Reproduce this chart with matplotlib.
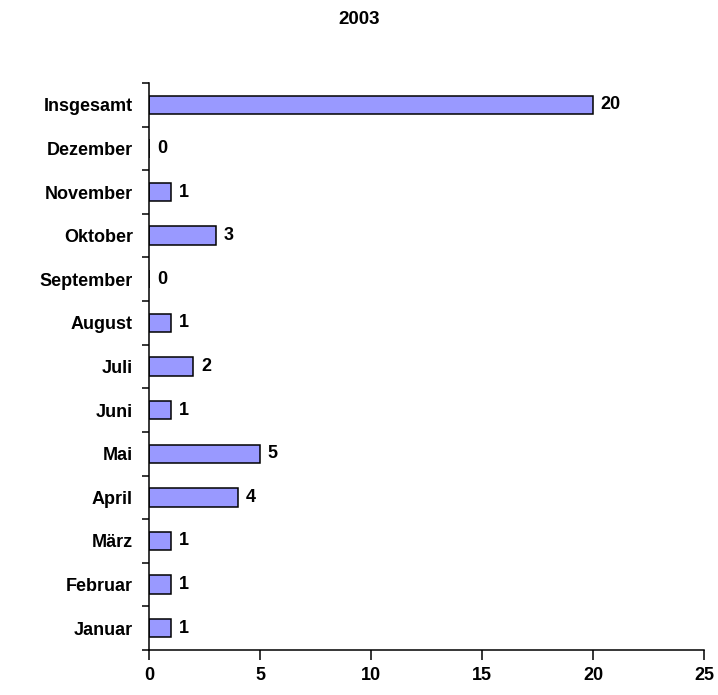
import numpy as np
import matplotlib
matplotlib.use("Agg")
import matplotlib.pyplot as plt

plt.rcParams['font.family'] = ['Liberation Sans', 'DejaVu Sans']

months = ["Januar", "Februar", "März", "April", "Mai", "Juni", "Juli",
          "August", "September", "Oktober", "November", "Dezember", "Insgesamt"]
values = [1, 1, 1, 4, 5, 1, 2, 1, 0, 3, 1, 0, 20]
xticks = [0, 5, 10, 15, 20, 25]

fig = plt.figure(figsize=(7.18, 6.95), dpi=100)
ax = fig.add_axes([0.2075, 0.0647, 0.7730, 0.8159])

y = np.arange(len(months))
ax.barh(y, values, height=0.42, color='#9999FF', edgecolor='black', linewidth=1.1)

for yi, v in zip(y, values):
    ax.text(v + 0.35, yi, str(v), va='center', ha='left',
            fontsize=13, fontweight='bold')

ax.set_xlim(0, 25)
ax.set_ylim(-0.5, len(months) - 0.5)
ax.set_xticks(xticks)
ax.set_xticklabels([str(t) for t in xticks], fontsize=13, fontweight='bold')
ax.set_yticks(y)
ax.set_yticklabels(months, fontsize=13, fontweight='bold')
ax.tick_params(axis='y', length=0, pad=11.5)
ax.set_yticks(np.arange(-0.5, len(months), 1), minor=True)
ax.tick_params(axis='y', which='minor', length=5, width=1.1, direction='out')
ax.tick_params(axis='x', length=7, width=1.1, direction='out', pad=5.5)

for s in ['top', 'right']:
    ax.spines[s].set_visible(False)
for s in ['left', 'bottom']:
    ax.spines[s].set_linewidth(1.1)

fig.text(0.5, 1 - 20 / 695, "2003", ha='center', va='center',
         fontsize=13.5, fontweight='bold')

fig.savefig("out.png", dpi=100)
